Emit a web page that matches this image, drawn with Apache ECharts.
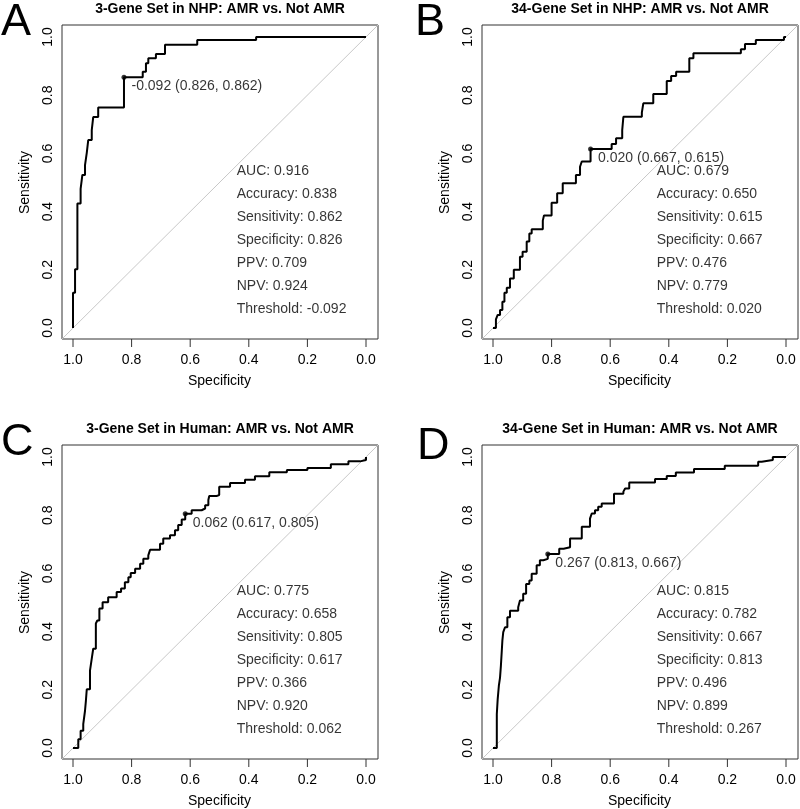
<!DOCTYPE html>
<html><head><meta charset="utf-8">
<script src="https://cdn.jsdelivr.net/npm/echarts@6/dist/echarts.min.js"></script>
<style>html,body{margin:0;padding:0;background:#fff}#c{width:800px;height:809px}</style>
</head><body><div id="c"></div>
<script>
// ---- data ----
const titles = [
  '3-Gene Set in NHP: AMR vs. Not AMR',
  '34-Gene Set in NHP: AMR vs. Not AMR',
  '3-Gene Set in Human: AMR vs. Not AMR',
  '34-Gene Set in Human: AMR vs. Not AMR'
];
const letters = ['A', 'B', 'C', 'D'];
const tickValues = [0, 0.2, 0.4, 0.6, 0.8, 1.0];
const statNames = ['AUC', 'Accuracy', 'Sensitivity', 'Specificity', 'PPV', 'NPV', 'Threshold'];

const specA = [1, 1, 0.993, 0.985, 0.974, 0.968, 0.959, 0.953, 0.948, 0.936, 0.931, 0.914, 0.826, 0.762, 0.751, 0.743, 0.717, 0.686, 0.576, 0.375, 0];
const sensA = [0, 0.121, 0.202, 0.428, 0.478, 0.526, 0.56, 0.602, 0.646, 0.68, 0.725, 0.758, 0.862, 0.881, 0.91, 0.927, 0.942, 0.973, 0.99, 1, 1];

const specB = [1, 0.99, 0.984, 0.976, 0.968, 0.961, 0.953, 0.942, 0.929, 0.908, 0.899, 0.885, 0.876, 0.868, 0.83, 0.826, 0.8, 0.781, 0.762, 0.717, 0.703, 0.697, 0.667, 0.595, 0.58, 0.559, 0.555, 0.492, 0.487, 0.453, 0.407, 0.392, 0.375, 0.33, 0.316, 0.154, 0.14, 0.103, 0.007, 0];
const sensB = [0, 0.03, 0.045, 0.062, 0.09, 0.121, 0.138, 0.17, 0.2, 0.245, 0.262, 0.297, 0.325, 0.339, 0.369, 0.387, 0.43, 0.463, 0.497, 0.526, 0.554, 0.572, 0.615, 0.632, 0.652, 0.68, 0.726, 0.74, 0.772, 0.804, 0.849, 0.866, 0.881, 0.927, 0.944, 0.958, 0.976, 0.99, 1, 1];

const specC = [1, 0.982, 0.974, 0.965, 0.959, 0.956, 0.953, 0.942, 0.936, 0.931, 0.922, 0.917, 0.91, 0.899, 0.88, 0.851, 0.836, 0.823, 0.811, 0.803, 0.788, 0.771, 0.76, 0.743, 0.737, 0.703, 0.692, 0.669, 0.652, 0.641, 0.629, 0.617, 0.595, 0.561, 0.549, 0.538, 0.535, 0.51, 0.501, 0.464, 0.413, 0.379, 0.33, 0.27, 0.2, 0.12, 0.06, 0.02, 0];
const sensC = [0, 0.03, 0.059, 0.082, 0.128, 0.162, 0.202, 0.266, 0.307, 0.341, 0.428, 0.438, 0.479, 0.501, 0.518, 0.536, 0.548, 0.57, 0.587, 0.601, 0.616, 0.633, 0.65, 0.662, 0.681, 0.702, 0.72, 0.731, 0.748, 0.766, 0.785, 0.805, 0.817, 0.823, 0.834, 0.852, 0.866, 0.869, 0.898, 0.911, 0.922, 0.934, 0.948, 0.955, 0.962, 0.975, 0.985, 0.99, 1];

const specD = [1, 0.987, 0.984, 0.98, 0.976, 0.973, 0.97, 0.968, 0.965, 0.959, 0.951, 0.942, 0.914, 0.908, 0.897, 0.887, 0.876, 0.868, 0.851, 0.84, 0.828, 0.813, 0.774, 0.759, 0.737, 0.697, 0.669, 0.663, 0.652, 0.641, 0.629, 0.587, 0.555, 0.549, 0.535, 0.447, 0.407, 0.376, 0.314, 0.209, 0.095, 0.083, 0.045, 0];
const sensD = [0, 0.116, 0.168, 0.214, 0.242, 0.283, 0.334, 0.369, 0.398, 0.415, 0.449, 0.472, 0.484, 0.507, 0.53, 0.564, 0.576, 0.599, 0.628, 0.645, 0.65, 0.667, 0.685, 0.69, 0.72, 0.76, 0.788, 0.806, 0.817, 0.829, 0.84, 0.874, 0.881, 0.892, 0.912, 0.924, 0.935, 0.947, 0.959, 0.97, 0.984, 0.99, 1, 1];

// threshold, specificity, sensitivity of the marked best point
const bestA = [-0.092, 0.826, 0.862];
const bestB = [0.020, 0.667, 0.615];
const bestC = [0.062, 0.617, 0.805];
const bestD = [0.267, 0.813, 0.667];

// AUC, Accuracy, Sensitivity, Specificity, PPV, NPV, Threshold
const statsA = [0.916, 0.838, 0.862, 0.826, 0.709, 0.924, -0.092];
const statsB = [0.679, 0.650, 0.615, 0.667, 0.476, 0.779, 0.020];
const statsC = [0.775, 0.658, 0.805, 0.617, 0.366, 0.920, 0.062];
const statsD = [0.815, 0.782, 0.667, 0.813, 0.496, 0.899, 0.267];

// ---- chart ----
const FONT = '"Liberation Sans", Arial, Helvetica, sans-serif';
const panels = [
  {spec: specA, sens: sensA, best: bestA, stats: statsA},
  {spec: specB, sens: sensB, best: bestB, stats: statsB},
  {spec: specC, sens: sensC, best: bestC, stats: statsC},
  {spec: specD, sens: sensD, best: bestD, stats: statsD}
];
const grid = [], xAxis = [], yAxis = [], series = [], title = [], graphic = [];
const letterPos = [[1, 0], [415, 0], [1, 420], [417, 424]];
const labelStyle = {fontSize: 14, color: '#000', fontFamily: FONT};
// layout geometry: data area is 293 x 291 px, box edge 11 px outside, ticks 8 px long
const GW = 293, GH = 291, PAD = 11, TICK = 8;
const xBox = 1 + PAD / GW, xTickEnd = 1 + (PAD + TICK) / GW;
const yBox = -PAD / GH, yTickEnd = -(PAD + TICK) / GH;

panels.forEach((p, i) => {
  const col = i % 2, row = Math.floor(i / 2);
  const L = col ? 482 : 62;     // box left
  const T = row ? 445 : 25;     // box top
  const gi = 2 * i, bi = 2 * i + 1;
  // data region (0..1)
  grid.push({left: L + PAD, top: T + 12, width: GW, height: GH, show: false,
    containLabel: false, outerBoundsMode: 'none'});
  // box region (-0.04..1.04)
  grid.push({left: L, top: T, width: 316, height: 314, show: true,
    borderColor: '#333', borderWidth: 1, backgroundColor: 'transparent',
    containLabel: false, outerBoundsMode: 'none'});

  xAxis.push({type: 'value', gridIndex: gi, position: 'bottom', inverse: true, min: 0, max: 1, interval: 0.2,
    offset: PAD, name: 'Specificity', nameLocation: 'middle', nameGap: 35,
    nameTextStyle: labelStyle, axisLine: {show: false, onZero: false}, axisTick: {show: false}, splitLine: {show: false},
    axisLabel: Object.assign({formatter: v => v.toFixed(1), margin: 14, showMinLabel: true, showMaxLabel: true}, labelStyle)
  });
  yAxis.push({type: 'value', gridIndex: gi, position: 'left', min: 0, max: 1, interval: 0.2,
    offset: PAD, name: 'Sensitivity', nameLocation: 'middle', nameGap: 30,
    nameTextStyle: labelStyle, axisLine: {show: false, onZero: false}, axisTick: {show: false}, splitLine: {show: false},
    axisLabel: Object.assign({formatter: v => v.toFixed(1), margin: 7, rotate: 90, showMinLabel: true, showMaxLabel: true}, labelStyle)
  });
  xAxis.push({type: 'value', gridIndex: bi, inverse: true, min: -0.04, max: 1.04, show: false, axisLine: {onZero: false}});
  yAxis.push({type: 'value', gridIndex: bi, min: -0.04, max: 1.04, show: false, axisLine: {onZero: false}});

  title.push({text: titles[i], left: L + 158, top: T - 23, textAlign: 'center', padding: 0,
    textStyle: {fontSize: 14, fontWeight: 'bold', color: '#000', fontFamily: FONT}});
  graphic.push({type: 'text', left: letterPos[i][0], top: letterPos[i][1],
    style: {text: letters[i], fontSize: 45, fill: '#000', font: '45px ' + FONT}});

  // axis ticks, drawn outward from the box edges through the data axes
  tickValues.forEach(v => {
    series.push({type: 'line', xAxisIndex: gi, yAxisIndex: gi, silent: true, symbol: 'none', clip: false, z: 4,
      data: [[v, yBox], [v, yTickEnd]], lineStyle: {color: '#333', width: 1}});
    series.push({type: 'line', xAxisIndex: gi, yAxisIndex: gi, silent: true, symbol: 'none', clip: false, z: 4,
      data: [[xBox, v], [xTickEnd, v]], lineStyle: {color: '#333', width: 1}});
  });

  series.push({type: 'line', xAxisIndex: bi, yAxisIndex: bi, silent: true, symbol: 'none', z: 1,
    data: [[1.04, -0.04], [-0.04, 1.04]], lineStyle: {color: '#c8c8c8', width: 1}});
  series.push({type: 'line', xAxisIndex: gi, yAxisIndex: gi, silent: true, symbol: 'none', z: 2,
    step: 'end', clip: false, data: p.spec.map((s, k) => [s, p.sens[k]]),
    lineStyle: {color: '#000', width: 2}});
  series.push({type: 'scatter', xAxisIndex: gi, yAxisIndex: gi, silent: true, z: 3,
    symbolSize: 5, itemStyle: {color: '#000'},
    data: [[p.best[1], p.best[2]]],
    label: Object.assign({show: true, position: 'right', distance: 5, offset: [0, 9],
      formatter: () => p.best[0].toFixed(3) + ' (' + p.best[1].toFixed(3) + ', ' + p.best[2].toFixed(3) + ')'}, labelStyle)});
  series.push({type: 'scatter', xAxisIndex: gi, yAxisIndex: gi, silent: true, z: 3,
    symbolSize: 1, itemStyle: {color: 'rgba(0,0,0,0)'},
    data: statNames.map((n, k) => [0.443, 0.54 - k * 0.079, n + ': ' + p.stats[k].toFixed(3)]),
    label: Object.assign({show: true, position: 'right', distance: 0,
      formatter: q => q.data[2]}, labelStyle)});
});

const chart = echarts.init(document.getElementById('c'), null, {renderer: 'canvas'});
chart.setOption({animation: false, backgroundColor: '#fff', title, grid, xAxis, yAxis, series, graphic});
</script>
</body></html>
